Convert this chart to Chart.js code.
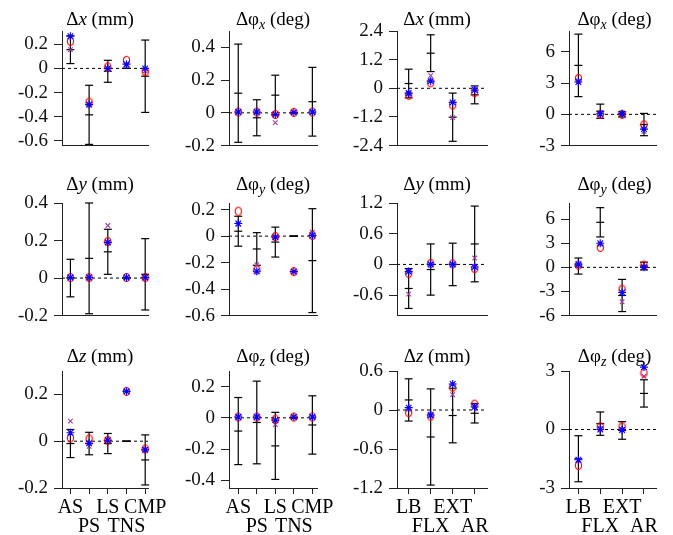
<!DOCTYPE html>
<html>
<head>
<meta charset="utf-8">
<script src="https://cdn.jsdelivr.net/npm/chart.js@4"></script>
<style>
  html, body { margin: 0; padding: 0; background: #fff; }
  #fig { position: relative; width: 673px; height: 535px; overflow: hidden; background: #fff; }
  #fig canvas { position: absolute; }
</style>
</head>
<body>
<div id="fig"></div>
<script>
/* ---------- categories ---------- */
const spineTests = ['AS', 'PS', 'LS', 'TNS', 'CMP'];
const lumbarTests = ['LB', 'FLX', 'EXT', 'AR'];

/* ---------- row 1 : x ---------- */
// Δx (mm), spine tests
const dxS_mean   = [0.155, -0.385, -0.024, 0, -0.065];
const dxS_sd     = [0.115, 0.245, 0.091, 0, 0.3];
const dxS_red    = [0.225, -0.28, 0.013, 0.067, -0.027];
const dxS_blue   = [0.266, -0.30, 0.0, 0.035, 0.0];
const dxS_purple = [0.155, -0.305, -0.01, 0.027, -0.02];
const dxS_ticks  = [-0.6, -0.4, -0.2, 0, 0.2];

// Δφx (deg), spine tests
const phxS_mean   = [0.12, -0.03, 0.108, 0, 0.068];
const phxS_sd     = [0.3, 0.11, 0.122, 0, 0.21];
const phxS_red    = [0.005, 0.005, -0.01, 0.003, 0.005];
const phxS_blue   = [0.005, 0.005, -0.01, 0.003, 0.005];
const phxS_purple = [0.005, 0.005, -0.06, 0.003, 0.005];
const phxS_ticks  = [-0.2, 0, 0.2, 0.4];

// Δx (mm), lumbar tests
const dxL_mean   = [0.2, 1.47, -1.21, -0.275];
const dxL_sd     = [0.6, 0.77, 1.01, 0.375];
const dxL_red    = [-0.29, 0.23, -0.7, -0.18];
const dxL_blue   = [-0.2, 0.3, -0.59, -0.07];
const dxL_purple = [-0.25, 0.53, -1.23, -0.01];
const dxL_ticks  = [-2.4, -1.2, 0, 1.2, 2.4];

// Δφx (deg), lumbar tests
const phxL_mean   = [4.7, 0.3, 0.0, -0.98];
const phxL_sd     = [3.0, 0.68, 0.25, 1.07];
const phxL_red    = [3.45, 0.0, 0.0, -1.0];
const phxL_blue   = [3.1, 0.05, 0.05, -1.42];
const phxL_purple = [3.2, 0.0, 0.0, -1.64];
const phxL_ticks  = [-3, 0, 3, 6];

/* ---------- row 2 : y ---------- */
const dyS_mean   = [0, 0.105, 0.14, 0, 0.02];
const dyS_sd     = [0.1, 0.295, 0.12, 0, 0.19];
const dyS_red    = [0.003, 0.003, 0.195, 0.003, 0.003];
const dyS_blue   = [0.003, 0.003, 0.19, 0.003, 0.003];
const dyS_purple = [0.003, 0.003, 0.28, 0.003, 0.003];
const dyS_ticks  = [-0.2, 0, 0.2, 0.4];

const phyS_mean   = [0.037, -0.097, -0.045, 0, -0.185];
const phyS_sd     = [0.113, 0.123, 0.113, 0, 0.392];
const phyS_red    = [0.188, -0.256, -0.003, -0.268, 0.005];
const phyS_blue   = [0.095, -0.265, -0.008, -0.268, 0.005];
const phyS_purple = [0.09, -0.215, -0.005, -0.268, 0.03];
const phyS_ticks  = [-0.6, -0.4, -0.2, 0, 0.2];

const dyL_mean   = [-0.47, -0.1, 0.0, 0.4];
const dyL_sd     = [0.39, 0.5, 0.415, 0.74];
const dyL_red    = [-0.175, 0.02, 0.01, -0.08];
const dyL_blue   = [-0.14, 0.0, 0.0, -0.05];
const dyL_purple = [-0.58, 0.0, 0.0, 0.125];
const dyL_ticks  = [-0.6, 0, 0.6, 1.2];

const phyL_mean   = [0.16, 5.6, -3.5, 0.16];
const phyL_sd     = [1.0, 1.82, 2.0, 0.48];
const phyL_red    = [0.28, 2.48, -2.72, 0.28];
const phyL_blue   = [0.4, 3.0, -3.12, 0.0];
const phyL_purple = [0.2, 2.88, -4.28, 0.1];
const phyL_ticks  = [-6, -3, 0, 3, 6];

/* ---------- row 3 : z ---------- */
const dzS_mean   = [-0.01, -0.01, -0.01, 0, -0.08];
const dzS_sd     = [0.06, 0.048, 0.043, 0, 0.107];
const dzS_red    = [0.014, 0.01, 0.004, 0.213, -0.033];
const dzS_blue   = [0.036, -0.009, 0.004, 0.213, -0.037];
const dzS_purple = [0.086, -0.022, 0.004, 0.213, -0.035];
const dzS_ticks  = [-0.2, 0, 0.2];

const phzS_mean   = [-0.085, -0.03, -0.18, 0, -0.046];
const phzS_sd     = [0.215, 0.265, 0.215, 0, 0.187];
const phzS_red    = [0.005, 0.005, -0.009, 0.005, 0.005];
const phzS_blue   = [0.005, 0.005, -0.015, 0.005, 0.005];
const phzS_purple = [0.005, 0.005, -0.043, 0.005, 0.005];
const phzS_ticks  = [-0.4, -0.2, 0, 0.2];

const dzL_mean   = [0.155, -0.415, -0.085, -0.05];
const dzL_sd     = [0.325, 0.74, 0.42, 0.15];
const dzL_red    = [-0.04, -0.094, 0.35, 0.09];
const dzL_blue   = [0.037, -0.078, 0.40, 0.047];
const dzL_purple = [0.01, -0.09, 0.235, 0.06];
const dzL_ticks  = [-1.2, -0.6, 0, 0.6];

const phzL_mean   = [-1.5, 0.3, -0.05, 1.85];
const phzL_sd     = [1.18, 0.6, 0.45, 0.7];
const phzL_red    = [-1.84, 0.14, 0.14, 2.9];
const phzL_blue   = [-1.55, 0.0, -0.03, 3.2];
const phzL_purple = [-1.6, 0.05, 0.0, 2.72];
const phzL_ticks  = [-3, 0, 3];

/* ---------- layout (pixels) ---------- */
const colLeft   = [62, 229, 397, 569];
const colRight  = [148, 317, 487, 656];
const rowTop    = [31, 203, 371];
const rowBottom = [149, 319, 488];
const titleGap  = [6, 13, 9];
const titleShift = [-5, 0, -5, 2];
const xRange = [[0.55, 5.15], [0.5, 5.25], [0.47, 4.56], [0.57, 4.55]];
const YW = 60, PT = 30, PR = 28;
const FONT = "'Liberation Serif', 'Times New Roman', serif";

function ringMarker(color) {
  const c = document.createElement('canvas');
  c.width = 9; c.height = 11;
  const g = c.getContext('2d');
  g.strokeStyle = color;
  g.lineWidth = 1.2;
  g.beginPath();
  g.ellipse(4.5, 5.5, 3.1, 4.0, 0, 0, Math.PI * 2);
  g.stroke();
  return c;
}
const redRing = ringMarker('#ff0000');

function titleParts(axis, kind) {
  if (kind === 'mm') return [{ t: 'Δ' }, { t: axis, it: true }, { t: ' (mm)' }];
  return [{ t: 'Δφ' }, { t: axis, it: true, sub: true }, { t: ' (deg)' }];
}

const panelTitle = {
  id: 'panelTitle',
  afterDraw(chart, args, opts) {
    const { ctx, chartArea } = chart;
    const fonts = opts.parts.map(p => (p.it ? 'italic ' : '') + (p.sub ? 14 : 19) + 'px ' + FONT);
    ctx.save();
    ctx.fillStyle = '#000';
    ctx.textBaseline = 'alphabetic';
    let total = 0;
    opts.parts.forEach((p, i) => { ctx.font = fonts[i]; total += ctx.measureText(p.t).width; });
    let x = (chartArea.left + chartArea.right) / 2 + opts.shift - total / 2;
    const y = chartArea.top - opts.gap;
    opts.parts.forEach((p, i) => {
      ctx.font = fonts[i];
      ctx.fillText(p.t, x, y + (p.sub ? 4 : 0));
      x += ctx.measureText(p.t).width;
    });
    ctx.restore();
  }
};

const panels = [
  { row: 0, col: 0, cats: spineTests, axis: 'x', kind: 'mm', mean: dxS_mean, sd: dxS_sd, red: dxS_red, blue: dxS_blue, purple: dxS_purple, ticks: dxS_ticks, yMin: -0.64, yMax: 0.31 },
  { row: 0, col: 1, cats: spineTests, axis: 'x', kind: 'deg', mean: phxS_mean, sd: phxS_sd, red: phxS_red, blue: phxS_blue, purple: phxS_purple, ticks: phxS_ticks, yMin: -0.2, yMax: 0.5 },
  { row: 0, col: 2, cats: lumbarTests, axis: 'x', kind: 'mm', mean: dxL_mean, sd: dxL_sd, red: dxL_red, blue: dxL_blue, purple: dxL_purple, ticks: dxL_ticks, yMin: -2.4, yMax: 2.4 },
  { row: 0, col: 3, cats: lumbarTests, axis: 'x', kind: 'deg', mean: phxL_mean, sd: phxL_sd, red: phxL_red, blue: phxL_blue, purple: phxL_purple, ticks: phxL_ticks, yMin: -3, yMax: 8 },
  { row: 1, col: 0, cats: spineTests, axis: 'y', kind: 'mm', mean: dyS_mean, sd: dyS_sd, red: dyS_red, blue: dyS_blue, purple: dyS_purple, ticks: dyS_ticks, yMin: -0.2, yMax: 0.4 },
  { row: 1, col: 1, cats: spineTests, axis: 'y', kind: 'deg', mean: phyS_mean, sd: phyS_sd, red: phyS_red, blue: phyS_blue, purple: phyS_purple, ticks: phyS_ticks, yMin: -0.6, yMax: 0.25 },
  { row: 1, col: 2, cats: lumbarTests, axis: 'y', kind: 'mm', mean: dyL_mean, sd: dyL_sd, red: dyL_red, blue: dyL_blue, purple: dyL_purple, ticks: dyL_ticks, yMin: -1.0, yMax: 1.2 },
  { row: 1, col: 3, cats: lumbarTests, axis: 'y', kind: 'deg', mean: phyL_mean, sd: phyL_sd, red: phyL_red, blue: phyL_blue, purple: phyL_purple, ticks: phyL_ticks, yMin: -6, yMax: 8 },
  { row: 2, col: 0, cats: spineTests, axis: 'z', kind: 'mm', mean: dzS_mean, sd: dzS_sd, red: dzS_red, blue: dzS_blue, purple: dzS_purple, ticks: dzS_ticks, yMin: -0.2, yMax: 0.3 },
  { row: 2, col: 1, cats: spineTests, axis: 'z', kind: 'deg', mean: phzS_mean, sd: phzS_sd, red: phzS_red, blue: phzS_blue, purple: phzS_purple, ticks: phzS_ticks, yMin: -0.45, yMax: 0.3 },
  { row: 2, col: 2, cats: lumbarTests, axis: 'z', kind: 'mm', mean: dzL_mean, sd: dzL_sd, red: dzL_red, blue: dzL_blue, purple: dzL_purple, ticks: dzL_ticks, yMin: -1.2, yMax: 0.6 },
  { row: 2, col: 3, cats: lumbarTests, axis: 'z', kind: 'deg', mean: phzL_mean, sd: phzL_sd, red: phzL_red, blue: phzL_blue, purple: phzL_purple, ticks: phzL_ticks, yMin: -3, yMax: 3 }
];

const fig = document.getElementById('fig');

function makePanel(p) {
  const bottomRow = p.row === 2;
  const xh = bottomRow ? 48 : 14;
  const plotW = colRight[p.col] - colLeft[p.col];
  const plotH = rowBottom[p.row] - rowTop[p.row];
  const cv = document.createElement('canvas');
  cv.width = YW + plotW + PR;
  cv.height = PT + plotH + xh;
  cv.style.left = (colLeft[p.col] - YW) + 'px';
  cv.style.top = (rowTop[p.row] - PT) + 'px';
  cv.style.width = cv.width + 'px';
  cv.style.height = cv.height + 'px';
  fig.appendChild(cv);

  const [xMin, xMax] = xRange[p.col];
  const toPts = arr => arr.map((v, i) => ({ x: i + 1, y: v }));

  const datasets = [
    { data: toPts(p.blue), pointStyle: 'star', pointRadius: 4, pointBorderColor: '#0000ff', pointBorderWidth: 1.1, clip: false },
    { data: toPts(p.red), pointStyle: redRing, pointRadius: 4, clip: false },
    { data: toPts(p.purple), pointStyle: 'crossRot', pointRadius: 3.2, pointBorderColor: '#a03ca8', pointBorderWidth: 1.1, clip: false }
  ];
  p.mean.forEach((m, i) => {
    datasets.push({
      data: [{ x: i + 1, y: m - p.sd[i] }, { x: i + 1, y: m }, { x: i + 1, y: m + p.sd[i] }],
      showLine: true, borderColor: '#000', borderWidth: 1.2,
      pointStyle: 'line', pointRadius: 4, pointBorderColor: '#000', pointBorderWidth: 1.2,
      clip: false
    });
  });
  datasets.push({
    data: [{ x: xMin, y: 0 }, { x: xMax, y: 0 }],
    showLine: true, borderColor: '#000', borderWidth: 1, borderDash: [3, 3], pointRadius: 0
  });

  new Chart(cv, {
    type: 'scatter',
    data: { datasets },
    options: {
      responsive: false,
      animation: false,
      events: [],
      layout: { padding: { top: PT, right: PR, left: 0, bottom: 0 } },
      plugins: {
        legend: { display: false },
        tooltip: { enabled: false },
        panelTitle: { parts: titleParts(p.axis, p.kind), gap: titleGap[p.row], shift: titleShift[p.col] }
      },
      scales: {
        x: {
          type: 'linear', min: xMin, max: xMax,
          afterFit(s) { s.height = xh; },
          afterBuildTicks(s) { s.ticks = p.cats.map((c, i) => ({ value: i + 1 })); },
          grid: { display: bottomRow, drawOnChartArea: false, tickLength: 6, color: '#222', lineWidth: 1 },
          border: { color: '#222', width: 1 },
          ticks: {
            display: bottomRow, autoSkip: false, maxRotation: 0, padding: 4, color: '#000',
            font: { family: FONT, size: 20, lineHeight: 0.95 },
            callback: (v, i) => (i % 2 ? ['', p.cats[v - 1]] : p.cats[v - 1])
          }
        },
        y: {
          type: 'linear', min: p.yMin, max: p.yMax,
          afterFit(s) { s.width = YW; },
          afterBuildTicks(s) { s.ticks = p.ticks.map(v => ({ value: v })); },
          grid: { drawOnChartArea: false, tickLength: 8, color: '#222', lineWidth: 1 },
          border: { color: '#222', width: 1 },
          ticks: { autoSkip: false, padding: 6, color: '#111', font: { family: FONT, size: 19 }, callback: v => String(v) }
        }
      }
    },
    plugins: [panelTitle]
  });
}

panels.forEach(makePanel);
</script>
</body>
</html>
